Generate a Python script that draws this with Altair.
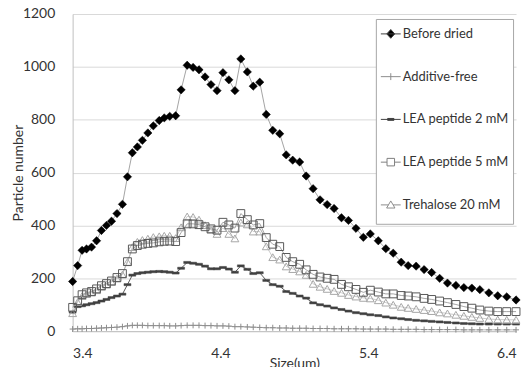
import altair as alt
import pandas as pd

size_um = [3.400, 3.434, 3.464, 3.494, 3.528, 3.562, 3.595, 3.629, 3.663, 3.700,
           3.737, 3.771, 3.804, 3.838, 3.872, 3.909, 3.946, 3.986, 4.020, 4.057,
           4.097, 4.134, 4.175, 4.215, 4.255, 4.296, 4.336, 4.377, 4.417, 4.457,
           4.498, 4.538, 4.582, 4.622, 4.666, 4.710, 4.754, 4.801, 4.845, 4.889,
           4.936, 4.980, 5.027, 5.074, 5.122, 5.169, 5.219, 5.266, 5.317, 5.367,
           5.414, 5.468, 5.519, 5.569, 5.623, 5.670, 5.724, 5.778, 5.829, 5.883,
           5.936, 5.993, 6.047, 6.101, 6.155, 6.216, 6.276, 6.337, 6.400]

before_dried = [188, 248, 306, 311, 318, 342, 381, 400, 416, 445,
                480, 584, 675, 697, 722, 750, 777, 797, 807, 813,
                815, 913, 1006, 998, 989, 962, 933, 910, 978, 951,
                910, 1030, 981, 927, 942, 820, 760, 747, 667, 647,
                640, 587, 539, 497, 479, 464, 429, 419, 389, 355,
                368, 342, 312, 295, 261, 248, 246, 233, 222, 200,
                182, 173, 165, 163, 157, 145, 134, 130, 118]

additive_free = [8, 9, 9, 10, 10, 11, 12, 13, 14, 15,
                 17, 20, 22, 22, 22, 21, 21, 21, 21, 20,
                 20, 21, 22, 22, 22, 21, 21, 20, 20, 19,
                 17, 17, 16, 15, 14, 13, 13, 12, 12, 11,
                 11, 11, 10, 10, 10, 9, 9, 9, 9, 8,
                 8, 8, 8, 7, 7, 7, 7, 6, 6, 6,
                 6, 6, 5, 5, 5, 5, 5, 5, 5]

lea_2mm = [72, 93, 96, 100, 104, 108, 114, 120, 127, 133,
           140, 176, 212, 218, 221, 223, 225, 226, 225, 223,
           220, 238, 260, 257, 253, 246, 236, 236, 241, 235,
           223, 247, 234, 218, 221, 192, 176, 170, 150, 143,
           133, 125, 107, 100, 95, 88, 82, 76, 70, 66,
           62, 59, 54, 50, 47, 44, 41, 39, 37, 35,
           33, 31, 29, 28, 27, 27, 27, 27, 27]

lea_5mm = [90, 115, 138, 145, 150, 160, 172, 180, 190, 203,
           218, 263, 311, 324, 329, 332, 334, 338, 340, 341,
           339, 373, 406, 406, 403, 395, 387, 382, 412, 402,
           390, 445, 422, 402, 407, 354, 329, 320, 279, 263,
           253, 232, 215, 205, 200, 196, 177, 168, 158, 147,
           155, 148, 141, 141, 135, 133, 130, 124, 120, 114,
           108, 101, 93, 87, 80, 76, 74, 74, 74]

trehalose_20mm = [68, 110, 133, 141, 146, 155, 168, 176, 186, 199,
                  214, 262, 318, 338, 345, 350, 356, 359, 361, 361,
                  352, 393, 434, 432, 422, 401, 384, 368, 390, 368,
                  351, 411, 404, 377, 377, 321, 280, 271, 245, 235,
                  226, 213, 179, 168, 160, 152, 145, 137, 131, 126,
                  124, 117, 108, 100, 92, 88, 84, 80, 76, 71,
                  67, 62, 58, 54, 50, 46, 44, 43, 43]

series_names = ["Before dried", "Additive-free", "LEA peptide 2 mM",
                "LEA peptide 5 mM", "Trehalose 20 mM"]
series_values = [before_dried, additive_free, lea_2mm, lea_5mm, trehalose_20mm]
x_ticks = [3.4, 4.4, 5.4, 6.4]
y_ticks = [0, 200, 400, 600, 800, 1000, 1200]

rows = []
for name, vals in zip(series_names, series_values):
    for xv, yv in zip(size_um, vals):
        rows.append({"size": xv, "count": yv, "series": name})
df = pd.DataFrame(rows)

FONT = "Lato"
TXT = "#333333"

x_enc = alt.X("size:Q",
              scale=alt.Scale(domain=[3.4, 6.4], nice=False, zero=False),
              axis=alt.Axis(values=x_ticks, format=".1f", title="Size(um)",
                            grid=False, ticks=False, labelPadding=15,
                            titlePadding=-3, domainColor="#bfbfbf",
                            labelFont=FONT, titleFont=FONT, labelFontSize=14,
                            titleFontSize=14, titleFontWeight="normal",
                            labelColor=TXT, titleColor=TXT))
y_enc = alt.Y("count:Q",
              scale=alt.Scale(domain=[0, 1200], nice=False),
              axis=alt.Axis(values=y_ticks, format="d", title="Particle number",
                            ticks=False, gridColor="#d9d9d9", domainColor="#bfbfbf",
                            labelPadding=18, titlePadding=-3,
                            labelFont=FONT, titleFont=FONT, labelFontSize=14,
                            titleFontSize=14, titleFontWeight="normal",
                            labelColor=TXT, titleColor=TXT))

base = alt.Chart(df).encode(x=x_enc, y=y_enc)

styles = {
    "Before dried": dict(line="#8c8c8c", lw=0.8, shape="diamond", size=70,
                         filled=True, color="#000000"),
    "Additive-free": dict(line="#a6a6a6", lw=0.8, shape="M-1,0H1M0,-1V1", size=36,
                          filled=False, color="#8c8c8c"),
    "LEA peptide 2 mM": dict(line="#595959", lw=1.0, shape="M-1,-0.3H1V0.3H-1Z", size=49,
                             filled=True, color="#404040"),
    "LEA peptide 5 mM": dict(line="#8c8c8c", lw=0.8, shape="square", size=62,
                             filled=False, color="#595959"),
    "Trehalose 20 mM": dict(line="#bfbfbf", lw=0.8, shape="triangle-up", size=62,
                            filled=False, color="#a6a6a6"),
}

layers = []
for name in series_names:
    st = styles[name]
    sub = base.transform_filter(alt.datum.series == name)
    layers.append(sub.mark_line(color=st["line"], strokeWidth=st["lw"]))
for name in ["LEA peptide 2 mM", "Trehalose 20 mM", "LEA peptide 5 mM",
             "Additive-free", "Before dried"]:
    st = styles[name]
    sub = base.transform_filter(alt.datum.series == name)
    if st["filled"]:
        pm = sub.mark_point(shape=st["shape"], size=st["size"], filled=True,
                            fill=st["color"], stroke=st["color"], strokeWidth=0.5, opacity=1)
    else:
        pm = sub.mark_point(shape=st["shape"], size=st["size"], filled=False,
                            stroke=st["color"], strokeWidth=1, opacity=1)
    layers.append(pm)

# legend-only layer (no rows drawn); symbols are line + marker glyphs
# unit = sqrt(441)/2 = 10.5 px; trailing moves reserve vertical room per entry
PADV = "M0,-1.2M0,1.2"
legend_shapes = [
    "M-0.95,0H0.95M0,-0.42L0.38,0L0,0.42L-0.38,0Z" + PADV,
    "M-0.95,0H0.95M0,-0.33V0.33" + PADV,
    "M-0.95,0H0.95M-0.3,-0.09H0.3V0.09H-0.3Z" + PADV,
    "M-0.95,0H-0.36M0.36,0H0.95M-0.36,-0.36H0.36V0.36H-0.36Z" + PADV,
    "M-0.95,0H-0.22M0.22,0H0.95M0,-0.38L0.4,0.3H-0.4Z" + PADV,
]
legend_fill = ["#000000", "transparent", "#404040", "#ffffff", "#ffffff"]
legend_stroke = ["#404040", "#8c8c8c", "#404040", "#7f7f7f", "#8c8c8c"]

leg = alt.Legend(title=None, orient="none", legendX=305, legendY=5, padding=4,
                 symbolSize=441, symbolStrokeWidth=1,
                 rowPadding=13, labelFont=FONT, labelOffset=1,
                 labelFontSize=13, labelColor=TXT, strokeColor="#a6a6a6",
                 fillColor="#ffffff", labelLimit=0)

legend_layer = alt.Chart(df).transform_filter("datum.count < 0").mark_point(
    filled=True, opacity=1).encode(
    shape=alt.Shape("series:N", scale=alt.Scale(domain=series_names, range=legend_shapes),
                    legend=leg, sort=series_names),
    fill=alt.Fill("series:N", scale=alt.Scale(domain=series_names, range=legend_fill),
                  legend=leg, sort=series_names),
    stroke=alt.Stroke("series:N", scale=alt.Scale(domain=series_names, range=legend_stroke),
                      legend=leg, sort=series_names),
)

chart = alt.layer(*layers, legend_layer).properties(
    width=446, height=319,
    autosize=alt.AutoSizeParams(type="none"),
    padding={"left": 65, "top": 5, "right": 8, "bottom": 35},
).configure_view(stroke=None)

chart.save("out.html", embed_options={"renderer": "svg", "actions": False})
